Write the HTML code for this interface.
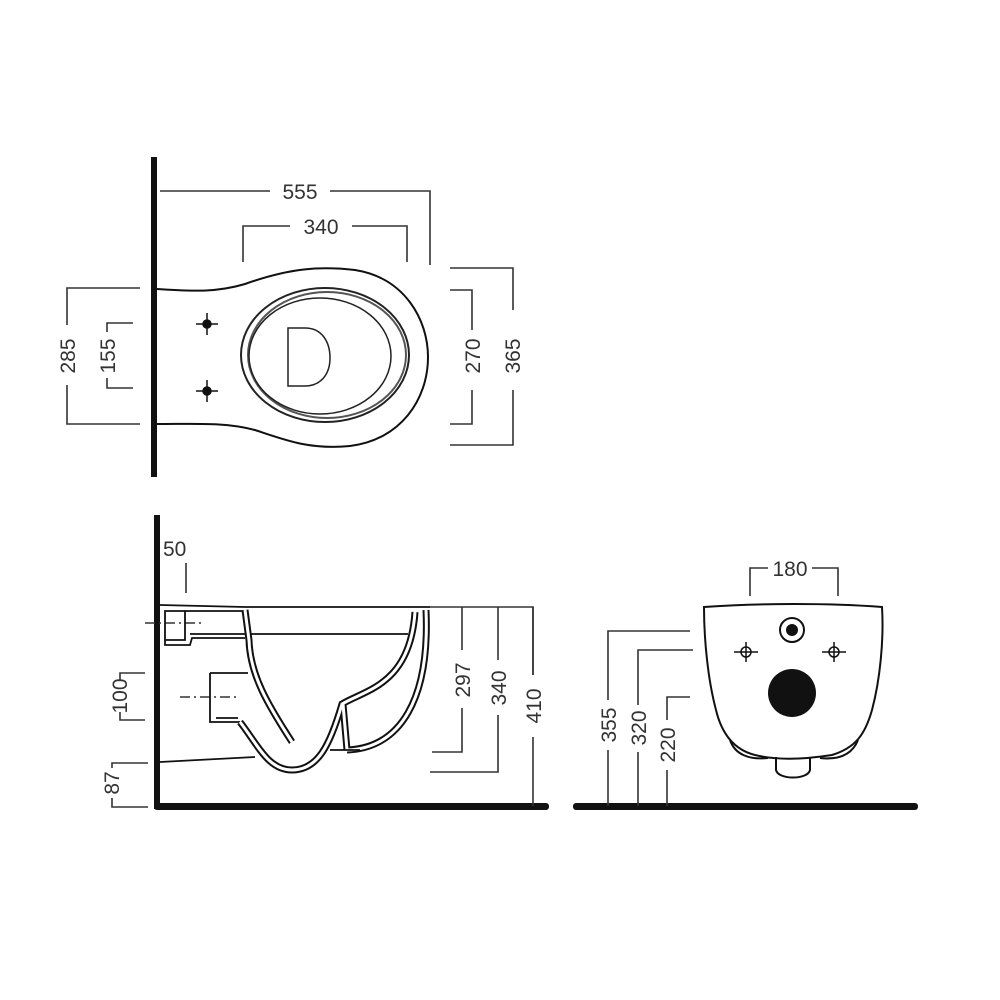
<!DOCTYPE html>
<html><head><meta charset="utf-8"><style>
html,body{margin:0;padding:0;background:#fff;}
svg{display:block}
text{font-family:"Liberation Sans",sans-serif;font-size:21px;fill:#333;}
</style></head><body>
<svg width="1000" height="1000" viewBox="0 0 1000 1000" xmlns="http://www.w3.org/2000/svg">
<g fill="none" stroke="#333" stroke-width="1.6">
<polyline points="160,191 270,191"/><polyline points="330,191 430,191 430,265"/>
<text x="300" y="199" text-anchor="middle" stroke="none">555</text>
<polyline points="243,262 243,226 290,226"/><polyline points="352,226 407,226 407,262"/>
<text x="321" y="234" text-anchor="middle" stroke="none">340</text>
<polyline points="450,268 513,268 513,310"/><polyline points="513,390 513,445 450,445"/>
<polyline points="450,290 472,290 472,330"/><polyline points="472,390 472,424 450,424"/>
<polyline points="140,288 67,288 67,325"/><polyline points="67,385 67,424 140,424"/>
<polyline points="133,323 107,323 107,332"/><polyline points="107,378 107,388 133,388"/>
</g>
<text transform="translate(520,356) rotate(-90)" text-anchor="middle">365</text>
<text transform="translate(480,356) rotate(-90)" text-anchor="middle">270</text>
<text transform="translate(75,356) rotate(-90)" text-anchor="middle">285</text>
<text transform="translate(115,356) rotate(-90)" text-anchor="middle">155</text>
<rect x="151" y="157" width="6" height="320" fill="#111"/>
<path d="M157,289 C190,291 215,293 245,284 C290,268 320,266 355,270 C405,278 428,320 428,357 C428,400 400,440 350,446 C310,450 285,440 255,430 C225,422 195,424 157,424" fill="none" stroke="#111" stroke-width="2"/>
<ellipse cx="325" cy="355" rx="84" ry="67" fill="none" stroke="#222" stroke-width="2"/>
<ellipse cx="327" cy="355" rx="79" ry="63" fill="none" stroke="#555" stroke-width="2"/>
<ellipse cx="320" cy="356" rx="71" ry="58" fill="none" stroke="#222" stroke-width="1.5"/>
<path d="M288,328 L305,328 C322,328 330,342 330,358 C330,375 320,386 305,386 L288,386 Z" fill="none" stroke="#222" stroke-width="1.5"/>
<g stroke="#111" stroke-width="1.5"><circle cx="207" cy="324" r="4" fill="#111"/><line x1="196" y1="324" x2="218" y2="324"/><line x1="207" y1="313" x2="207" y2="335"/>
<circle cx="207" cy="391" r="4" fill="#111"/><line x1="196" y1="391" x2="218" y2="391"/><line x1="207" y1="380" x2="207" y2="402"/></g>

<!-- SIDE VIEW -->
<rect x="154" y="515" width="6" height="294" fill="#111"/>
<rect x="154" y="803" width="395" height="7" rx="3" fill="#111"/>
<text x="163" y="556" stroke="none">50</text>
<g fill="none" stroke="#333" stroke-width="1.6">
<line x1="186" y1="563" x2="186" y2="593"/>
<polyline points="430,607 533,607 533,806"/>
<polyline points="462,607 462,652"/><polyline points="462,705 462,752 432,752"/>
<polyline points="498,607 498,660"/><polyline points="498,712 498,772 430,772"/>
<polyline points="533,607 533,680"/>
<polyline points="145,673 120,673 120,680"/><polyline points="120,712 120,720 145,720"/>
<polyline points="148,763 112,763 112,768"/><polyline points="112,798 112,807 148,807"/>
<line x1="145" y1="623" x2="205" y2="623" stroke-dasharray="10,4,2,4"/>
<line x1="180" y1="697" x2="240" y2="697" stroke-dasharray="10,4,2,4"/>
</g>
<rect x="456" y="650" width="14" height="58" fill="#fff"/><rect x="492" y="660" width="14" height="55" fill="#fff"/><rect x="527" y="675" width="14" height="62" fill="#fff"/>
<text transform="translate(470,680) rotate(-90)" text-anchor="middle">297</text>
<text transform="translate(506,688) rotate(-90)" text-anchor="middle">340</text>
<text transform="translate(541,706) rotate(-90)" text-anchor="middle">410</text>
<text transform="translate(127,696) rotate(-90)" text-anchor="middle">100</text>
<text transform="translate(119,783) rotate(-90)" text-anchor="middle">87</text>
<g fill="none" stroke="#111" stroke-width="1.8">
<path d="M160,605 L245,607 L430,607"/>
<path d="M165,611 L185,611 L185,640 L165,640 Z"/>
<path d="M185,611 L245,611"/>
<path d="M165,640 L165,645 L190,645 L192,638 L245,638"/>
<path d="M190,634 L408,634"/>
<path d="M210,673 L248,673"/>
<path d="M210,673 L210,722 L240,722"/>
<path d="M216,718 L238,718"/>
<path d="M160,762 L255,757"/>
</g>
<g fill="none" stroke-linecap="butt">
<g stroke="#111" stroke-width="7">
<path d="M245,610 L249,640 C250,675 268,705 292,742"/>
<path d="M240,722 C258,745 268,770 292,770 C318,770 330,745 342,704 C365,690 410,685 415,612"/>
<path d="M426,610 C430,700 400,748 347,750"/>
<path d="M343,704 L347,750"/>
</g>
<g stroke="#fff" stroke-width="3">
<path d="M245,610 L249,640 C250,675 268,705 292,742"/>
<path d="M240,722 C258,745 268,770 292,770 C318,770 330,745 342,704 C365,690 410,685 415,612"/>
<path d="M426,610 C430,700 400,748 347,750"/>
<path d="M343,704 L347,750"/>
</g>
</g>
<line x1="330" y1="750" x2="360" y2="750" stroke="#111" stroke-width="1.8"/>

<!-- FRONT VIEW -->
<rect x="573" y="803" width="345" height="7" rx="3" fill="#111"/>
<g fill="none" stroke="#333" stroke-width="1.6">
<polyline points="750,596 750,568 768,568"/><polyline points="812,568 838,568 838,596"/>
<polyline points="690,631 608,631 608,700"/><polyline points="608,750 608,806"/>
<polyline points="693,650 638,650 638,705"/><polyline points="638,752 638,806"/>
<polyline points="690,697 667,697 667,720"/><polyline points="667,770 667,806"/>
</g>
<text x="790" y="576" text-anchor="middle">180</text>
<text transform="translate(616,725) rotate(-90)" text-anchor="middle">355</text>
<text transform="translate(646,728) rotate(-90)" text-anchor="middle">320</text>
<text transform="translate(675,745) rotate(-90)" text-anchor="middle">220</text>
<g fill="none" stroke="#111" stroke-width="2">
<path d="M704,607 C760,603 830,603 882,607 C884,640 880,680 872,710 C865,735 855,748 832,755 C800,760 775,760 755,755 C735,750 722,735 716,710 C708,680 704,640 704,607 Z"/>
<path d="M730,740 C735,755 750,760 768,758"/>
<path d="M858,740 C852,755 838,760 820,758"/>
<path d="M776,757 L776,770 C778,780 808,780 810,770 L810,757"/>
</g>
<circle cx="792" cy="630" r="12" fill="none" stroke="#111" stroke-width="2"/>
<circle cx="792" cy="630" r="6" fill="#111"/>
<circle cx="792" cy="693" r="24" fill="#111"/>
<g stroke="#111" stroke-width="1.5" fill="none">
<circle cx="746" cy="652" r="5"/><line x1="734" y1="652" x2="758" y2="652"/><line x1="746" y1="642" x2="746" y2="662"/>
<circle cx="834" cy="652" r="5"/><line x1="822" y1="652" x2="846" y2="652"/><line x1="834" y1="642" x2="834" y2="662"/>
</g>
</svg>
</body></html>
